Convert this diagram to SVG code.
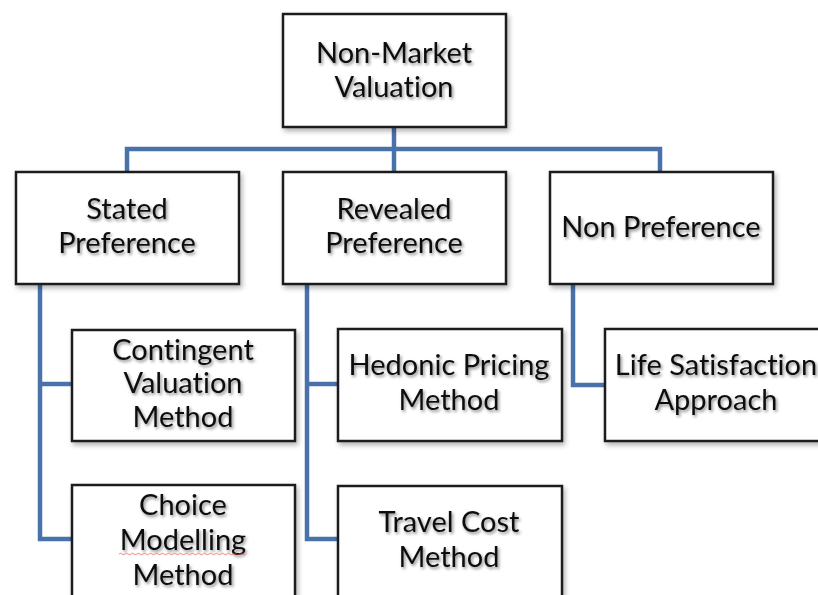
<svg xmlns="http://www.w3.org/2000/svg" width="818" height="595" viewBox="0 0 818 595">
<defs>
<filter id="bs" x="-10%" y="-10%" width="125%" height="130%">
<feDropShadow dx="2" dy="3" stdDeviation="2.5" flood-color="#000" flood-opacity="0.3"/>
</filter>
<filter id="ts" x="-10%" y="-20%" width="120%" height="150%">
<feDropShadow dx="1.5" dy="2" stdDeviation="1.5" flood-color="#000" flood-opacity="0.45"/>
</filter>
<style>
.box{fill:#fff;stroke:#1e1e1e;stroke-width:2.5;filter:url(#bs)}
.t{font-family:Lato,"Open Sans","Liberation Sans",sans-serif;font-size:29px;fill:#111;text-anchor:middle;filter:url(#ts);font-variant-ligatures:none;font-feature-settings:"liga" 0,"clig" 0}
.c{fill:none;stroke:#4a72aa;stroke-width:4.5;stroke-linejoin:miter}
</style>
</defs>
<rect width="818" height="595" fill="#fff"/>
<g id="connectors">
<path class="c" d="M394 127 V172"/>
<path class="c" d="M127 172 V149 H660 V172"/>
<path class="c" d="M40 284 V539 H72 M40 384 H72"/>
<path class="c" d="M307 284 V539 H338 M307 384 H338"/>
<path class="c" d="M573 284 V385 H605"/>
</g>
<g id="n-root"><rect class="box" x="283" y="14" width="223" height="113"/><text class="t" x="394" y="63">Non-Market</text><text class="t" x="394" y="97">Valuation</text></g>
<g id="n-stated"><rect class="box" x="16" y="172" width="223" height="112"/><text class="t" x="127" y="219">Stated</text><text class="t" x="127" y="253">Preference</text></g>
<g id="n-revealed"><rect class="box" x="283" y="172" width="223" height="112"/><text class="t" x="394" y="219">Revealed</text><text class="t" x="394" y="253">Preference</text></g>
<g id="n-nonpref"><rect class="box" x="550" y="172" width="223" height="112"/><text class="t" x="661" y="237">Non Preference</text></g>
<g id="n-contingent"><rect class="box" x="72" y="330" width="223" height="111"/><text class="t" x="183" y="360">Contingent</text><text class="t" x="183" y="393">Valuation</text><text class="t" x="183" y="427">Method</text></g>
<g id="n-hedonic"><rect class="box" x="338" y="329" width="224" height="112"/><text class="t" x="449" y="375">Hedonic Pricing</text><text class="t" x="449" y="410">Method</text></g>
<g id="n-life"><rect class="box" x="605" y="329" width="230" height="112"/><text class="t" x="716" y="375">Life Satisfaction</text><text class="t" x="716" y="410">Approach</text></g>
<g id="n-choice"><rect class="box" x="72" y="485" width="223" height="130"/><text class="t" x="183" y="515">Choice</text><text class="t" x="183" y="550">Modelling</text><path d="M119 554 q1.5 -1.5 3 0 t3 0 t3 0 t3 0 t3 0 t3 0 t3 0 t3 0 t3 0 t3 0 t3 0 t3 0 t3 0 t3 0 t3 0 t3 0 t3 0 t3 0 t3 0 t3 0 t3 0 t3 0 t3 0 t3 0 t3 0 t3 0 t3 0 t3 0 t3 0 t3 0 t3 0 t3 0 t3 0 t3 0 t3 0 t3 0 t3 0 t3 0 t3 0 t3 0 t3 0 t3 0 " fill="none" stroke="#d44" stroke-width="0.9" opacity="0.7"/><text class="t" x="183" y="585">Method</text></g>
<g id="n-travel"><rect class="box" x="338" y="486" width="224" height="130"/><text class="t" x="449" y="532">Travel Cost</text><text class="t" x="449" y="567">Method</text></g>
</svg>
